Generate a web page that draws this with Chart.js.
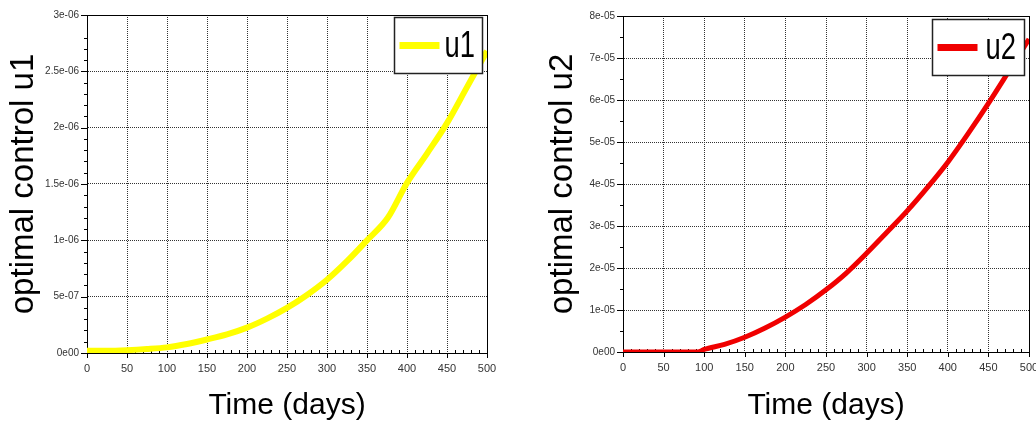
<!DOCTYPE html>
<html>
<head>
<meta charset="utf-8">
<script src="https://cdn.jsdelivr.net/npm/chart.js@4"></script>
<style>
  html, body { margin: 0; padding: 0; background: #fff; overflow: hidden; }
  body { width: 1036px; height: 428px; position: relative; }
  .box { position: absolute; top: 0; height: 428px; }
  #boxU1 { left: 0; width: 500px; }
  #boxU2 { left: 530px; width: 506px; }
</style>
</head>
<body>
<div class="box" id="boxU1"><canvas id="chartU1"></canvas></div>
<div class="box" id="boxU2"><canvas id="chartU2"></canvas></div>
<script>
const daysU1 = [0, 25, 50, 75, 100, 125, 150, 175, 200, 225, 250, 275, 300, 325, 350, 376, 400, 425, 450, 475, 500];
const valuesU1 = [2e-8, 2e-8, 2.5e-8, 3.5e-8, 5e-8, 8e-8, 1.2e-7, 1.65e-7, 2.25e-7, 3.05e-7, 4.0e-7, 5.15e-7, 6.5e-7, 8.15e-7, 1.0e-6, 1.2e-6, 1.51e-6, 1.77e-6, 2.04e-6, 2.36e-6, 2.68e-6];

const daysU2 = [0, 50, 92, 100, 125, 150, 175, 200, 225, 250, 275, 300, 325, 350, 375, 400, 425, 450, 475, 500];
const valuesU2 = [0, 0, 0, 6e-7, 1.8e-6, 3.5e-6, 5.7e-6, 8.3e-6, 1.13e-5, 1.48e-5, 1.88e-5, 2.35e-5, 2.85e-5, 3.36e-5, 3.92e-5, 4.52e-5, 5.2e-5, 5.92e-5, 6.68e-5, 7.45e-5];

const xTicksMajor = [0, 50, 100, 150, 200, 250, 300, 350, 400, 450, 500];
const yTicksU1 = ['0e00', '5e-07', '1e-06', '1.5e-06', '2e-06', '2.5e-06', '3e-06'];
const yTicksU2 = ['0e00', '1e-05', '2e-05', '3e-05', '4e-05', '5e-05', '6e-05', '7e-05', '8e-05'];

const SANS = '"Liberation Sans", Arial, sans-serif';

function isMajor(v, step) {
  const r = v / step;
  return Math.abs(r - Math.round(r)) < 1e-6;
}

// axis frame, minor/major tick marks
const framePlugin = {
  id: 'frame',
  beforeDatasetsDraw(chart) {
    const ctx = chart.ctx;
    const a = chart.chartArea;
    const xs = chart.scales.x, ys = chart.scales.y;
    const o = chart.options.plugins.frame;
    ctx.save();
    ctx.strokeStyle = '#000';
    ctx.lineWidth = 1;
    ctx.strokeRect(Math.round(a.left) + 0.5, Math.round(a.top) + 0.5, Math.round(a.right - a.left), Math.round(a.bottom - a.top));
    ctx.beginPath();
    xs.ticks.forEach(t => {
      const px = Math.round(xs.getPixelForValue(t.value)) + 0.5;
      if (isMajor(t.value, 50)) {
        ctx.moveTo(px, a.bottom); ctx.lineTo(px, a.bottom + 5);
      } else {
        ctx.moveTo(px, a.bottom); ctx.lineTo(px, a.bottom - 3);
      }
    });
    ys.ticks.forEach(t => {
      const py = Math.round(ys.getPixelForValue(t.value)) + 0.5;
      const len = isMajor(t.value, o.yMajor) ? 6 : 3;
      ctx.moveTo(a.left, py); ctx.lineTo(a.left - len, py);
    });
    ctx.stroke();
    ctx.restore();
  }
};

// boxed legend drawn over the plot
const boxLegendPlugin = {
  id: 'boxLegend',
  afterDatasetsDraw(chart) {
    const o = chart.options.plugins.boxLegend;
    const ds = chart.data.datasets[0];
    const a = chart.chartArea;
    const ctx = chart.ctx;
    const left = Math.round(a.right - o.right - o.width) + 0.5;
    const top = Math.round(a.top + o.top) + 0.5;
    ctx.save();
    ctx.fillStyle = '#fff';
    ctx.fillRect(left, top, o.width, o.height);
    ctx.strokeStyle = '#222';
    ctx.lineWidth = 1.5;
    ctx.strokeRect(left, top, o.width, o.height);
    const cy = top + o.height / 2;
    ctx.strokeStyle = ds.borderColor;
    ctx.lineWidth = 7;
    ctx.beginPath();
    ctx.moveTo(left + 5, cy);
    ctx.lineTo(left + 45, cy);
    ctx.stroke();
    ctx.fillStyle = '#000';
    ctx.font = '37px ' + SANS;
    ctx.textBaseline = 'middle';
    ctx.translate(left + o.textX, cy + 1);
    ctx.scale(0.74, 1);
    ctx.fillText(ds.label, 0, 0);
    ctx.restore();
  }
};

function makeChart(id, days, values, label, color, width, yMax, yMinor, yMajor, yLabels, box) {
  const ctx = document.getElementById(id).getContext('2d');
  return new Chart(ctx, {
    type: 'line',
    data: {
      datasets: [{
        label: label,
        data: days.map((d, i) => ({ x: d, y: values[i] })),
        borderColor: color,
        borderWidth: width,
        pointRadius: 0,
        cubicInterpolationMode: 'monotone',
        fill: false
      }]
    },
    options: {
      responsive: true,
      maintainAspectRatio: false,
      animation: false,
      layout: { padding: box.padding },
      plugins: {
        legend: { display: false },
        tooltip: { enabled: false },
        frame: { yMajor: yMajor },
        boxLegend: box.legend
      },
      scales: {
        x: {
          type: 'linear',
          min: 0,
          max: 500,
          afterFit: s => { s.height = box.xHeight; s.paddingLeft = 0; s.paddingRight = 0; },
          ticks: {
            stepSize: 10,
            autoSkip: false,
            maxRotation: 0,
            padding: 9,
            color: '#333',
            font: { family: SANS, size: 11 },
            callback: v => (xTicksMajor.includes(Math.round(v)) && isMajor(v, 50)) ? String(Math.round(v)) : ''
          },
          grid: {
            drawTicks: false,
            color: c => isMajor(c.tick.value, 50) ? '#333' : 'rgba(0,0,0,0)'
          },
          border: { display: true, color: '#000', dash: [1, 1] },
          title: {
            display: true,
            text: 'Time (days)',
            color: '#000',
            font: { family: SANS, size: 30, lineHeight: 1 },
            padding: { top: 0, bottom: 7 }
          }
        },
        y: {
          min: 0,
          max: yMax,
          afterFit: s => { s.width = box.yWidth; s.paddingTop = 0; s.paddingBottom = 0; },
          ticks: {
            stepSize: yMinor,
            autoSkip: false,
            padding: 8,
            color: '#333',
            font: { family: SANS, size: 10 },
            callback: v => isMajor(v, yMajor) ? yLabels[Math.round(v / yMajor)] : ''
          },
          grid: {
            drawTicks: false,
            color: c => isMajor(c.tick.value, yMajor) ? '#333' : 'rgba(0,0,0,0)'
          },
          border: { display: true, color: '#000', dash: [1, 1] },
          title: {
            display: true,
            text: 'optimal control ' + label,
            color: '#000',
            font: { family: SANS, size: 33, lineHeight: 1 },
            padding: { top: box.yTitlePad, bottom: 0 }
          }
        }
      }
    },
    plugins: [framePlugin, boxLegendPlugin]
  });
}

makeChart('chartU1', daysU1, valuesU1, 'u1', 'rgb(255,255,0)', 6, 3e-6, 1e-7, 5e-7, yTicksU1, {
  padding: { left: 0, right: 13, top: 15, bottom: 0 },
  xHeight: 75, yWidth: 87, yTitlePad: 7,
  legend: { width: 88, height: 56, right: 5, top: 2, textX: 50 }
});

makeChart('chartU2', daysU2, valuesU2, 'u2', 'rgb(240,0,0)', 5, 8e-5, 5e-6, 1e-5, yTicksU2, {
  padding: { left: 0, right: 7, top: 16, bottom: 0 },
  xHeight: 76, yWidth: 93, yTitlePad: 16,
  legend: { width: 92, height: 56, right: 5, top: 3, textX: 53 }
});
</script>
</body>
</html>
